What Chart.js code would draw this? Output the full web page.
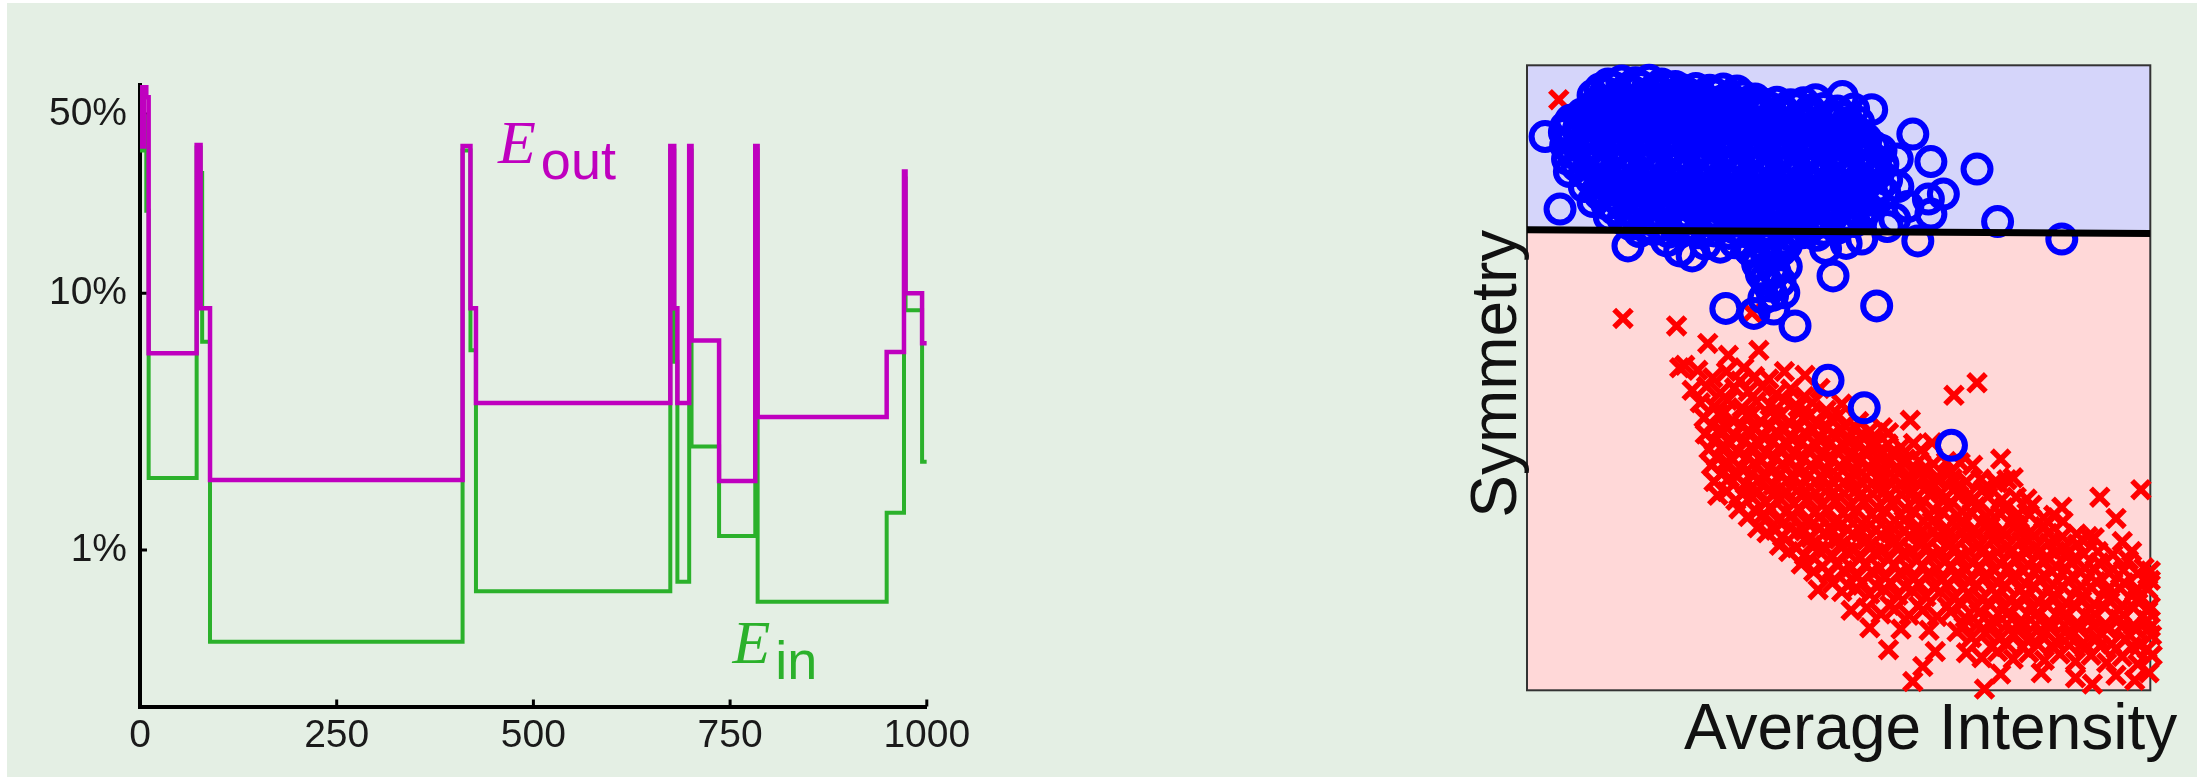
<!DOCTYPE html>
<html>
<head>
<meta charset="utf-8">
<script src="https://cdn.jsdelivr.net/npm/chart.js"></script>
<style>
  html, body { margin: 0; padding: 0; background: #ffffff; }
  body { width: 2204px; height: 780px; position: relative; overflow: hidden; }
  #panel { position: absolute; left: 7px; top: 3px; width: 2190px; height: 774px; background: #e4efe4; }
  #errCanvas { position: absolute; left: 0; top: 0; }
  #sepCanvas { position: absolute; left: 1400px; top: 0; }
</style>
</head>
<body>
<div id="panel"></div>
<canvas id="errCanvas" width="1000" height="780"></canvas>
<canvas id="sepCanvas" width="804" height="780"></canvas>
<script>
// ---- Left panel: in-sample / out-of-sample error of PLA, percent, stepped per update ----
const iterations = [0, 2, 5, 8, 11, 72, 77, 79, 89, 410, 420, 427, 674, 679, 683, 698, 701, 736, 782, 785, 949, 971, 973, 994, 1000];
const eOut = [63.8, 37.3, 63.8, 58, 5.85, 37.8, 8.76, 8.76, 1.875, 37.5, 8.76, 3.74, 37.5, 8.76, 3.74, 37.5, 6.55, 1.86, 37.5, 3.30, 5.91, 29.8, 10.0, 6.4, 6.4];
const eIn = [64.5, 36, 49, 21, 1.91, 37, 29.4, 6.48, 0.44, 36, 6.0, 0.692, 36, 5.42, 0.753, 36, 2.53, 1.134, 36, 0.629, 1.397, 28, 8.6, 2.21, 2.21];
const xTickValues = [0, 250, 500, 750, 1000];
const yTickValues = [1, 10, 50];
// curve name anchors: [subscript, iteration, error %]
const curveNotes = [['out', 455, 32.2], ['in', 753, 0.363]];

// ---- Right panel: digit features (Average Intensity, Symmetry) ----
const boundary = [[0, 73.7], [100, 73.1]];
const ones = [
  [13.0,97.0],[15.2,97.5],[17.4,97.2],[19.6,97.6],[21.6,97.0],[23.8,96.6],
  [11.7,96.2],[13.9,96.5],[16.1,96.3],[18.3,96.6],[20.5,96.2],[22.7,96.4],[24.9,96.1],[27.1,96.3],[29.3,96.0],[31.5,96.2],[33.7,95.9],
  [10.6,95.2],[12.6,95.7],[14.8,95.3],[17.0,95.8],[19.2,95.4],[21.4,95.7],[23.6,95.2],[25.8,95.5],[28.0,95.1],[30.2,95.4],[32.4,94.9],[34.6,95.1],[36.6,94.6],[46.3,94.5],[50.6,95.0],
  [11.5,94.2],[13.7,94.5],[15.9,94.3],[18.1,94.6],[20.3,94.2],[22.5,94.5],[24.7,94.1],[26.9,94.4],[29.1,94.0],[31.3,94.3],[33.5,93.9],[35.7,94.2],[37.9,93.8],[40.1,94.1],[42.3,93.7],[44.4,94.0],
  [10.4,93.3],[12.4,93.6],[14.6,93.3],[16.8,93.7],[19.0,93.4],[21.2,93.8],[23.4,93.3],[25.6,93.6],[27.8,93.2],[30.0,93.5],[32.2,93.1],[34.4,93.4],[36.6,93.0],[38.8,93.3],[41.0,92.9],[43.2,93.2],[45.4,92.8],[47.6,93.1],[49.8,92.7],[52.4,93.0],[55.3,92.9],
  [8.8,92.2],[11.0,92.5],[13.2,92.3],[15.4,92.6],[17.6,92.2],[19.8,92.5],[22.0,92.1],[24.2,92.4],[26.4,92.0],[28.6,92.3],[30.8,91.9],[33.0,92.2],[35.2,91.8],[37.4,92.1],[39.6,91.7],[41.8,92.0],[44.0,91.6],[46.2,91.9],[48.4,91.5],[50.6,91.8],
  [7.0,91.2],[9.2,91.6],[11.4,91.3],[13.6,91.7],[15.8,91.4],[18.0,91.7],[20.2,91.3],[22.4,91.6],[24.6,91.2],[26.8,91.5],[29.0,91.1],[31.2,91.4],[33.4,91.0],[35.6,91.3],[37.8,90.9],[40.0,91.2],[42.2,90.8],[44.4,91.1],[46.6,90.7],[48.8,91.0],[51.0,90.6],[53.2,90.9],
  [6.2,90.1],[8.4,90.4],[10.6,90.2],[12.8,90.5],[15.0,90.1],[17.2,90.4],[19.4,90.0],[21.6,90.3],[23.8,89.9],[26.0,90.2],[28.2,89.8],[30.4,90.1],[32.6,89.7],[34.8,90.0],[37.0,89.6],[39.2,89.9],[41.4,89.5],[43.6,89.8],[45.8,89.4],[48.0,89.7],[50.2,89.3],[52.4,89.6],
  [2.9,88.6],[6.0,89.3],[8.2,89.6],[10.4,89.2],[12.6,89.5],[14.8,89.1],[17.0,89.4],[19.2,89.0],[21.4,89.3],[23.6,88.9],[25.8,89.2],[28.0,88.8],[30.2,89.1],[32.4,88.7],[34.6,89.0],[36.8,88.6],[39.0,88.9],[41.2,88.5],[43.4,88.8],[45.6,88.4],[47.8,88.7],[50.0,88.3],[52.2,88.6],[54.4,88.2],[61.9,89.0],
  [7.2,88.0],[9.4,88.3],[11.6,87.9],[13.8,88.2],[16.0,87.8],[18.2,88.1],[20.4,87.7],[22.6,88.0],[24.8,87.6],[27.0,87.9],[29.2,87.5],[31.4,87.8],[33.6,87.4],[35.8,87.7],[38.0,87.3],[40.2,87.6],[42.4,87.2],[44.6,87.5],[46.8,87.1],[49.0,87.4],[51.2,87.0],[53.4,87.3],[55.6,87.0],
  [6.2,87.2],[8.4,87.5],[10.6,87.1],[12.8,87.4],[15.0,87.0],[17.2,87.3],[19.4,86.9],[21.6,87.2],[23.8,86.8],[26.0,87.1],[28.2,86.7],[30.4,87.0],[32.6,86.6],[34.8,86.9],[37.0,86.5],[39.2,86.8],[41.4,86.4],[43.6,86.7],[45.8,86.3],[48.0,86.6],[50.2,86.2],[52.4,86.5],[54.6,86.1],[56.8,86.4],
  [7.5,85.9],[9.7,86.2],[11.9,85.8],[14.1,86.1],[16.3,85.7],[18.5,86.0],[20.7,85.6],[22.9,85.9],[25.1,85.5],[27.3,85.8],[29.5,85.4],[31.7,85.7],[33.9,85.3],[36.1,85.6],[38.3,85.2],[40.5,85.5],[42.7,85.1],[44.9,85.4],[47.1,85.0],[49.3,85.3],[51.5,84.9],[53.7,85.2],[55.9,84.8],
  [6.5,85.0],[8.7,85.3],[10.9,84.9],[13.1,85.2],[15.3,84.8],[17.5,85.1],[19.7,84.7],[21.9,85.0],[24.1,84.6],[26.3,84.9],[28.5,84.5],[30.7,84.8],[32.9,84.4],[35.1,84.7],[37.3,84.3],[39.5,84.6],[41.7,84.2],[43.9,84.5],[46.1,84.1],[48.3,84.4],[50.5,84.0],[52.7,84.3],[54.9,83.9],[57.1,84.2],[59.4,85.0],[64.8,84.6],
  [8.0,83.9],[10.2,84.1],[12.4,83.7],[14.6,84.0],[16.8,83.6],[19.0,83.9],[21.2,83.5],[23.4,83.8],[25.6,83.4],[27.8,83.7],[30.0,83.3],[32.2,83.6],[34.4,83.2],[36.6,83.5],[38.8,83.1],[41.0,83.4],[43.2,83.0],[45.4,83.3],[47.6,82.9],[49.8,83.2],[52.0,82.8],[54.2,83.1],[56.4,82.8],
  [6.8,83.0],[9.3,82.8],[11.5,83.1],[13.7,82.7],[15.9,83.0],[18.1,82.6],[20.3,82.9],[22.5,82.5],[24.7,82.8],[26.9,82.4],[29.1,82.7],[31.3,82.3],[33.5,82.6],[35.7,82.2],[37.9,82.5],[40.1,82.1],[42.3,82.4],[44.5,82.0],[46.7,82.3],[48.9,81.9],[51.1,82.2],[53.3,81.8],[55.5,82.1],[57.7,81.7],[72.2,83.4],
  [10.3,81.7],[12.5,81.4],[14.7,81.7],[16.9,81.3],[19.1,81.6],[21.3,81.2],[23.5,81.5],[25.7,81.1],[27.9,81.4],[30.1,81.0],[32.3,81.3],[34.5,80.9],[36.7,81.2],[38.9,80.8],[41.1,81.1],[43.3,80.7],[45.5,81.0],[47.7,80.6],[49.9,80.9],[52.1,80.5],[54.3,80.8],[56.5,80.5],
  [9.2,80.6],[11.4,80.2],[13.6,80.5],[15.8,80.1],[18.0,80.4],[20.2,80.0],[22.4,80.3],[24.6,79.9],[26.8,80.2],[29.0,79.8],[31.2,80.1],[33.4,79.7],[35.6,80.0],[37.8,79.6],[40.0,79.9],[42.2,79.5],[44.4,79.8],[46.6,79.4],[48.8,79.7],[51.0,79.3],[53.2,79.6],[55.4,79.2],[57.4,79.6],[59.5,80.6],[64.4,78.6],[66.8,79.4],
  [11.7,79.3],[13.9,79.0],[16.1,79.3],[18.3,78.9],[20.5,79.2],[22.7,78.8],[24.9,79.1],[27.1,78.7],[29.3,79.0],[31.5,78.6],[33.7,78.9],[35.9,78.5],[38.1,78.8],[40.3,78.4],[42.5,78.7],[44.7,78.3],[46.9,78.6],[49.1,78.2],[51.3,78.5],[53.5,78.1],[55.6,78.4],
  [5.3,77.0],[10.6,78.2],[12.8,77.8],[15.0,78.1],[17.2,77.7],[19.4,78.0],[21.6,77.6],[23.8,77.9],[26.0,77.5],[28.2,77.8],[30.4,77.4],[32.6,77.7],[34.8,77.3],[37.0,77.6],[39.2,77.2],[41.4,77.5],[43.6,77.1],[45.8,77.4],[48.0,77.0],[50.2,77.3],[52.4,76.9],[54.6,77.2],[61.1,77.4],[64.8,76.2],
  [14.1,76.9],[16.3,76.6],[18.5,76.9],[20.7,76.5],[22.9,76.8],[25.1,76.4],[27.3,76.7],[29.5,76.3],[31.7,76.6],[33.9,76.2],[36.1,76.5],[38.3,76.1],[40.5,76.4],[42.7,76.0],[44.9,76.3],[47.1,75.9],[49.3,76.2],[51.5,75.8],[53.6,76.1],
  [13.2,75.8],[15.4,75.4],[17.6,75.7],[19.8,75.3],[22.0,75.6],[24.2,75.2],[26.4,75.5],[28.6,75.1],[30.8,75.4],[33.0,75.0],[35.2,75.3],[37.4,74.9],[39.6,75.2],[41.8,74.8],[44.0,75.1],[46.2,74.7],[48.4,75.0],[50.6,74.6],[52.5,75.0],[59.0,75.4],[57.8,74.2],[75.5,75.0],
  [16.6,74.5],[19.0,74.2],[21.4,74.5],[23.8,74.1],[26.2,74.4],[28.6,74.0],[31.0,74.3],[33.4,73.9],[35.8,74.2],[38.2,73.8],[40.6,74.1],[43.0,73.7],[45.3,74.0],[47.6,73.6],[49.8,73.9],
  [18.0,73.4],[20.4,73.7],[22.8,73.3],[25.2,73.6],[27.6,73.2],[30.0,73.5],[32.4,73.1],[34.8,73.4],[37.2,73.0],[39.6,73.3],[42.0,72.9],[44.2,73.2],[46.5,72.8],
  [16.2,71.1],[22.4,71.9],[24.5,70.3],[26.5,69.5],[28.6,71.4],[31.0,70.9],[33.4,71.6],[35.6,70.6],[37.8,71.3],[40.0,69.6],[41.6,71.2],[47.9,70.7],[51.2,71.5],[53.7,72.2],[62.7,71.9],[85.8,72.2],
  [36.0,70.2],[38.4,69.8],[40.8,70.4],[37.6,66.6],[39.8,66.9],[39.4,63.2],
  [37.0,68.2],[39.4,67.4],[41.6,67.8],[38.2,65.8],[40.6,65.4],[38.9,64.7],[41.2,63.6],[38.0,62.7],[36.4,60.3],[31.9,61.1],[43.0,58.3],[49.1,66.3],[56.1,61.5],[39.6,61.0],
  [48.3,49.6],[54.1,45.2],[68.1,39.2]
];
const fives = [
  [5.1,94.5],[15.4,59.5],[24.0,58.3],[36.1,60.4],
  [29.0,55.5],[25.3,52.0],[32.3,53.6],[37.2,54.4],[34.8,51.6],[24.5,51.6],
  [27.4,51.2],[29.8,50.0],[32.0,51.0],[34.2,49.5],[36.5,50.2],[38.8,49.8],[41.3,51.0],[44.6,50.4],
  [26.5,48.0],[28.8,48.6],[31.0,47.6],[33.3,48.4],[35.5,47.8],[37.8,48.6],[40.0,47.4],[42.3,48.2],[44.5,47.0],[47.0,48.3],
  [27.8,46.0],[30.0,45.4],[32.2,46.4],[34.5,45.2],[36.8,46.2],[39.0,45.6],[41.3,46.4],[43.5,45.3],[45.8,46.0],[48.0,44.8],[50.5,45.8],
  [31.6,44.4],[36.2,44.3],[40.8,44.2],[45.4,44.1],[50.0,44.0],
  [28.4,43.6],[30.8,44.2],[33.0,43.2],[35.3,44.0],[37.5,43.0],[39.8,43.8],[42.0,42.8],[44.3,43.6],[46.5,42.6],[48.8,43.4],[51.0,42.4],[53.2,43.0],[68.5,47.2],[72.2,49.2],
  [29.6,42.4],[32.1,42.0],[34.4,42.4],[36.7,41.9],[39.0,42.3],[41.3,41.8],[43.6,42.2],[45.9,41.7],[48.2,42.1],[50.5,41.6],[52.8,42.0],[55.0,41.5],[57.0,42.0],
  [28.6,41.0],[31.0,41.8],[33.3,40.8],[35.5,41.6],[37.8,40.6],[40.0,41.4],[42.3,40.4],[44.5,41.2],[46.8,40.2],[49.0,41.0],[51.3,40.0],[53.5,40.8],[55.8,39.8],[58.0,41.2],[61.5,43.2],
  [30.0,39.9],[32.6,39.5],[34.9,39.9],[37.2,39.4],[39.5,39.8],[41.8,39.3],[44.1,39.7],[46.4,39.2],[48.7,39.6],[51.0,39.1],[53.3,39.5],[55.6,39.0],[57.9,39.4],[60.0,38.9],[62.0,39.5],
  [29.2,38.6],[31.5,39.2],[33.8,38.2],[36.0,39.0],[38.3,38.0],[40.5,38.8],[42.8,37.8],[45.0,38.6],[47.3,37.6],[49.5,38.4],[51.8,37.4],[54.0,38.2],[56.3,37.2],[58.5,38.0],[60.8,37.0],[63.2,38.4],[65.0,39.6],
  [30.4,37.3],[33.0,36.9],[35.3,37.3],[37.6,36.8],[39.9,37.2],[42.2,36.7],[44.5,37.1],[46.8,36.6],[49.1,37.0],[51.4,36.5],[53.7,36.9],[56.0,36.4],[58.3,36.8],[60.6,36.3],[62.9,36.7],[65.2,36.2],[67.3,36.6],[69.5,36.4],
  [29.6,36.0],[32.0,36.6],[34.3,35.6],[36.5,36.4],[38.8,35.4],[41.0,36.2],[43.3,35.2],[45.5,36.0],[47.8,35.0],[50.0,35.8],[52.3,34.8],[54.5,35.6],[56.8,34.6],[59.0,35.4],[61.3,34.4],[63.5,35.2],[65.8,34.2],[68.0,35.0],[71.5,36.0],[76.0,37.0],
  [31.2,34.6],[33.7,34.2],[36.0,34.6],[38.3,34.1],[40.6,34.5],[42.9,34.0],[45.2,34.4],[47.5,33.9],[49.8,34.3],[52.1,33.8],[54.4,34.2],[56.7,33.7],[59.0,34.1],[61.3,33.6],[63.6,34.0],[65.9,33.5],[68.2,33.9],[70.5,33.4],[72.8,33.8],[75.0,33.3],[77.0,33.7],
  [30.0,33.4],[32.5,34.0],[35.0,33.0],[37.3,33.8],[39.5,32.8],[41.8,33.6],[44.0,32.6],[46.3,33.4],[48.5,32.4],[50.8,33.2],[53.0,32.2],[55.3,33.0],[57.5,32.0],[59.8,32.8],[62.0,31.8],[64.3,32.6],[66.5,31.6],[68.8,32.4],[71.0,31.4],[73.3,32.2],[75.5,33.2],[78.0,34.0],
  [98.5,32.1],[91.9,30.9],[85.8,29.3],
  [32.0,31.8],[34.6,31.4],[37.1,31.8],[39.4,31.3],[41.7,31.7],[44.0,31.2],[46.3,31.6],[48.6,31.1],[50.9,31.5],[53.2,31.0],[55.5,31.4],[57.8,30.9],[60.1,31.3],[62.4,30.8],[64.7,31.2],[67.0,30.7],[69.3,31.1],[71.6,30.6],[73.9,31.0],[76.2,30.5],[78.5,30.9],[80.2,30.6],
  [30.6,31.2],[33.5,30.4],[36.0,31.0],[38.3,30.0],[40.5,30.8],[42.8,29.8],[45.0,30.6],[47.3,29.6],[49.5,30.4],[51.8,29.4],[54.0,30.2],[56.3,29.2],[58.5,30.0],[60.8,29.0],[63.0,29.8],[65.3,28.8],[67.5,29.6],[69.8,28.6],[72.0,29.4],[74.3,28.4],[76.5,29.2],[78.8,28.2],[81.0,29.6],
  [34.0,29.0],[36.8,28.6],[39.2,29.0],[41.5,28.5],[43.8,28.9],[46.1,28.4],[48.4,28.8],[50.7,28.3],[53.0,28.7],[55.3,28.2],[57.6,28.6],[59.9,28.1],[62.2,28.5],[64.5,28.0],[66.8,28.4],[69.1,27.9],[71.4,28.3],[73.7,27.8],[76.0,28.2],[78.3,27.7],[80.6,28.1],[82.9,27.6],[84.5,28.0],
  [35.5,27.8],[38.0,28.2],[40.3,27.2],[42.5,28.0],[44.8,27.0],[47.0,27.8],[49.3,26.8],[51.5,27.6],[53.8,26.6],[56.0,27.4],[58.3,26.4],[60.5,27.2],[62.8,26.2],[65.0,27.0],[67.3,26.0],[69.5,26.8],[71.8,25.8],[74.0,26.6],[76.3,25.6],[78.5,26.4],[80.8,25.4],[83.0,26.2],[86.0,27.0],[94.5,27.5],
  [37.0,26.0],[39.8,25.6],[42.2,26.0],[44.5,25.5],[46.8,25.9],[49.1,25.4],[51.4,25.8],[53.7,25.3],[56.0,25.7],[58.3,25.2],[60.6,25.6],[62.9,25.1],[65.2,25.5],[67.5,25.0],[69.8,25.4],[72.1,24.9],[74.4,25.3],[76.7,24.8],[79.0,25.2],[81.3,24.7],[83.6,25.1],[85.9,24.6],[88.2,25.0],[90.0,24.6],
  [38.5,25.2],[41.0,24.6],[43.3,25.4],[45.5,24.4],[47.8,25.2],[50.0,24.2],[52.3,25.0],[54.5,24.0],[56.8,24.8],[59.0,23.8],[61.3,24.6],[63.5,23.6],[65.8,24.4],[68.0,23.4],[70.3,24.2],[72.5,23.2],[74.8,24.0],[77.0,23.0],[79.3,23.8],[81.5,22.8],[83.8,23.6],[86.0,22.6],[88.3,23.4],[91.0,24.4],[95.5,23.8],
  [40.5,23.2],[43.2,22.8],[45.6,23.2],[47.9,22.7],[50.2,23.1],[52.5,22.6],[54.8,23.0],[57.1,22.5],[59.4,22.9],[61.7,22.4],[64.0,22.8],[66.3,22.3],[68.6,22.7],[70.9,22.2],[73.2,22.6],[75.5,22.1],[77.8,22.5],[80.1,22.0],[82.4,22.4],[84.7,21.9],[87.0,22.3],[89.3,21.8],[91.6,22.2],[94.0,21.7],[97.0,22.2],
  [42.0,22.2],[44.5,21.6],[46.8,22.4],[49.0,21.4],[51.3,22.2],[53.5,21.2],[55.8,22.0],[58.0,21.0],[60.3,21.8],[62.5,20.8],[64.8,21.6],[67.0,20.6],[69.3,21.4],[71.5,20.4],[73.8,21.2],[76.0,20.2],[78.3,21.0],[80.5,20.0],[82.8,20.8],[85.0,19.8],[87.3,20.6],[89.5,19.6],[91.8,20.4],[94.0,19.4],[96.5,20.8],[99.0,19.6],
  [44.0,20.2],[47.4,19.8],[49.7,20.2],[52.0,19.7],[54.3,20.1],[56.6,19.6],[58.9,20.0],[61.2,19.5],[63.5,19.9],[65.8,19.4],[68.1,19.8],[70.4,19.3],[72.7,19.7],[75.0,19.2],[77.3,19.6],[79.6,19.1],[81.9,19.5],[84.2,19.0],[86.5,19.4],[88.8,18.9],[91.1,19.3],[93.4,18.8],[95.7,19.2],[98.0,18.7],[100.0,19.1],
  [46.0,19.0],[48.5,18.6],[50.8,19.2],[53.0,18.2],[55.3,19.0],[57.5,18.0],[59.8,18.8],[62.0,17.8],[64.3,18.6],[66.5,17.6],[68.8,18.4],[71.0,17.4],[73.3,18.2],[75.5,17.2],[77.8,18.0],[80.0,17.0],[82.3,17.8],[84.5,16.8],[86.8,17.6],[89.0,16.6],[91.3,17.4],[93.5,16.4],[95.8,17.2],[98.0,16.2],[100.0,17.6],
  [49.0,17.2],[51.5,16.8],[53.8,17.2],[56.1,16.7],[58.4,17.1],[60.7,16.6],[63.0,17.0],[65.3,16.5],[67.6,16.9],[69.9,16.4],[72.2,16.8],[74.5,16.3],[76.8,16.7],[79.1,16.2],[81.4,16.6],[83.7,16.1],[86.0,16.5],[88.3,16.0],[90.6,16.4],[92.9,15.9],[95.2,16.3],[97.5,15.8],[99.6,16.2],
  [46.7,16.1],[50.5,15.8],[52.8,16.4],[55.0,15.4],[57.3,16.2],[59.5,15.2],[61.8,16.0],[64.0,15.0],[66.3,15.8],[68.5,14.8],[70.8,15.6],[73.0,14.6],[75.3,15.4],[77.5,14.4],[79.8,15.2],[82.0,14.2],[84.3,15.0],[86.5,14.0],[88.8,14.8],[91.0,13.8],[93.3,14.6],[95.5,13.6],[97.8,14.4],[100.0,13.4],
  [58.2,13.6],[62.8,13.5],[67.4,13.4],[69.7,13.8],[72.0,13.3],[74.3,13.7],[76.6,13.2],[78.9,13.6],[81.2,13.1],[83.5,13.5],[85.8,13.0],[88.1,13.4],[90.4,12.9],[92.7,13.3],[95.0,12.8],[97.3,13.2],[99.6,12.7],
  [52.0,12.8],[54.5,13.2],[56.8,12.2],[59.0,13.0],[61.3,12.0],[63.5,12.8],[65.8,11.8],[68.0,12.6],[70.3,11.6],[72.5,12.4],[74.8,11.4],[77.0,12.2],[79.3,11.2],[81.5,12.0],[83.8,11.0],[86.0,11.8],[88.3,10.8],[90.5,11.6],[92.8,10.6],[95.0,11.4],[97.3,10.4],[99.5,11.2],
  [70.1,10.3],[72.4,10.7],[74.7,10.2],[77.0,10.6],[79.3,10.1],[81.6,10.5],[83.9,10.0],[86.2,10.4],[88.5,9.9],[90.8,10.3],[93.1,9.8],[95.4,10.2],[97.7,9.7],[100.0,10.1],
  [55.0,10.0],[60.0,9.8],[64.5,9.6],[69.0,9.4],[71.3,8.4],[73.5,9.2],[75.8,8.2],[78.0,9.0],[80.3,8.0],[82.5,8.8],[84.8,7.8],[87.0,8.6],[89.3,7.6],[91.5,8.4],[93.8,7.4],[96.0,8.2],[98.3,7.2],[100.2,8.8],
  [74.5,7.0],[77.0,7.4],[79.5,6.9],[82.0,7.3],[84.5,6.8],[87.0,7.2],[89.5,6.7],[92.0,7.1],[94.5,6.6],[97.0,7.0],[99.5,6.6],
  [58.0,6.5],[65.5,6.2],[70.5,6.0],[73.0,5.2],[75.5,6.2],[78.0,5.0],[80.5,6.0],[83.0,4.8],[85.5,5.8],[88.0,4.6],[90.5,5.6],[93.0,4.4],[95.5,5.4],[98.0,4.2],[100.3,5.6],
  [61.9,1.4],[63.5,3.8],[73.4,0.2],[76.0,2.6],[82.5,2.8],[88.0,2.0],[90.7,1.0],[94.5,2.4],[97.5,1.6],[99.8,2.8]
];

Chart.defaults.font.family = "'Liberation Sans', Arial, sans-serif";
Chart.defaults.color = '#1a1a1a';

const OUT_COLOR = '#bf00bf';
const IN_COLOR = '#2bb12b';

// short tick marks drawn on the inside of the axes
const inwardTicks = {
  id: 'inwardTicks',
  beforeDatasetsDraw(chart) {
    const { ctx, chartArea, scales } = chart;
    ctx.save();
    ctx.strokeStyle = '#000';
    ctx.lineWidth = 3;
    ctx.beginPath();
    yTickValues.forEach(v => {
      const y = scales.y.getPixelForValue(v);
      ctx.moveTo(chartArea.left, y);
      ctx.lineTo(chartArea.left + 7, y);
    });
    xTickValues.forEach(v => {
      if (v === 0) return;
      const x = scales.x.getPixelForValue(v);
      ctx.moveTo(x, chartArea.bottom);
      ctx.lineTo(x, chartArea.bottom - 7);
    });
    ctx.stroke();
    ctx.restore();
  }
};

// E_out / E_in names next to their curves
const curveNames = {
  id: 'curveNames',
  afterDatasetsDraw(chart) {
    const { ctx, scales } = chart;
    curveNotes.forEach(([sub, it, val], i) => {
      const x = scales.x.getPixelForValue(it);
      const y = scales.y.getPixelForValue(val);
      ctx.save();
      ctx.fillStyle = chart.data.datasets[i].borderColor;
      ctx.textBaseline = 'alphabetic';
      ctx.textAlign = 'left';
      ctx.font = "italic 62px 'Liberation Serif', serif";
      ctx.fillText('E', x, y);
      const w = ctx.measureText('E').width;
      ctx.font = "54px 'Liberation Sans', sans-serif";
      ctx.fillText(sub, x + w + 5, y + 16);
      ctx.restore();
    });
  }
};

new Chart(document.getElementById('errCanvas'), {
  type: 'line',
  data: {
    datasets: [
      {
        label: 'E_out',
        data: iterations.map((x, i) => ({ x, y: eOut[i] })),
        borderColor: OUT_COLOR, borderWidth: 4.5, stepped: true,
        pointRadius: 0, fill: false, order: 1,
        borderJoinStyle: 'miter', borderCapStyle: 'butt'
      },
      {
        label: 'E_in',
        data: iterations.map((x, i) => ({ x, y: eIn[i] })),
        borderColor: IN_COLOR, borderWidth: 4, stepped: true,
        pointRadius: 0, fill: false, order: 2,
        borderJoinStyle: 'miter', borderCapStyle: 'butt'
      }
    ]
  },
  options: {
    responsive: false,
    animation: false,
    events: [],
    layout: { padding: { top: 85, right: 73.2, left: 0, bottom: 0 } },
    plugins: { legend: { display: false }, tooltip: { enabled: false } },
    scales: {
      x: {
        type: 'linear', min: 0, max: 1000,
        afterBuildTicks: s => { s.ticks = xTickValues.map(v => ({ value: v })); },
        afterFit: s => { s.height = 73.5; },
        ticks: { font: { size: 39 }, padding: 6, maxRotation: 0, autoSkip: false, color: '#1a1a1a', callback: v => String(v) },
        grid: { display: true, drawOnChartArea: false, drawTicks: false },
        border: { display: true, color: '#000', width: 4 }
      },
      y: {
        type: 'logarithmic', min: 0.246, max: 64.8,
        afterBuildTicks: s => { s.ticks = yTickValues.map(v => ({ value: v })); },
        afterFit: s => { s.width = 140; },
        ticks: { font: { size: 39 }, padding: 13, autoSkip: false, color: '#1a1a1a', callback: v => v + '%' },
        grid: { display: true, drawOnChartArea: false, drawTicks: false },
        border: { display: true, color: '#000', width: 4 }
      }
    }
  },
  plugins: [inwardTicks, curveNames]
});

// frame around the feature plot plus its two axis names
const featureFrame = {
  id: 'featureFrame',
  afterDatasetDraw(chart, args) {
    if (chart.data.datasets[args.index].label !== 'upper') return;
    const { ctx, chartArea: a } = chart;
    ctx.save();
    ctx.strokeStyle = '#333';
    ctx.lineWidth = 2;
    ctx.strokeRect(a.left, a.top, a.right - a.left, a.bottom - a.top);
    ctx.restore();
  },
  afterDraw(chart) {
    const { ctx, chartArea: a } = chart;
    ctx.save();
    ctx.fillStyle = '#111';
    ctx.font = "64px 'Liberation Sans', sans-serif";
    ctx.textBaseline = 'alphabetic';
    ctx.textAlign = 'right';
    ctx.fillText('Average Intensity', a.right + 27, a.bottom + 59);
    ctx.translate(a.left - 11, (a.top + a.bottom) / 2 - 4);
    ctx.rotate(-Math.PI / 2);
    ctx.textAlign = 'center';
    ctx.fillText('Symmetry', 0, 0);
    ctx.restore();
  }
};

const toXY = pts => pts.map(([x, y]) => ({ x, y }));

new Chart(document.getElementById('sepCanvas'), {
  type: 'scatter',
  data: {
    datasets: [
      { type: 'line', label: 'upper', data: toXY(boundary), fill: 'end', backgroundColor: '#d5d5fa', borderWidth: 0, pointRadius: 0, order: 5 },
      { type: 'line', label: 'lower', data: toXY(boundary), fill: 'start', backgroundColor: '#ffd8d8', borderWidth: 0, pointRadius: 0, order: 6 },
      {
        label: 'fives', data: toXY(fives), order: 3, clip: false,
        pointStyle: 'crossRot', pointRadius: 12.5, pointBorderWidth: 5.5,
        pointBorderColor: '#ff0000', pointBackgroundColor: '#ff0000'
      },
      {
        label: 'ones', data: toXY(ones), order: 2, clip: false,
        pointStyle: 'circle', pointRadius: 13.5, pointBorderWidth: 6,
        pointBorderColor: '#0000ff', pointBackgroundColor: 'rgba(0,0,0,0)'
      },
      { type: 'line', label: 'boundary', data: toXY(boundary), borderColor: '#000', borderWidth: 7, pointRadius: 0, fill: false, order: 1 }
    ]
  },
  options: {
    responsive: false,
    animation: false,
    events: [],
    layout: { padding: { left: 127, right: 53.7, top: 65.3, bottom: 89.7 } },
    plugins: { legend: { display: false }, tooltip: { enabled: false } },
    scales: {
      x: { type: 'linear', min: 0, max: 100, display: false },
      y: { type: 'linear', min: 0, max: 100, display: false }
    }
  },
  plugins: [featureFrame]
});
</script>
</body>
</html>
